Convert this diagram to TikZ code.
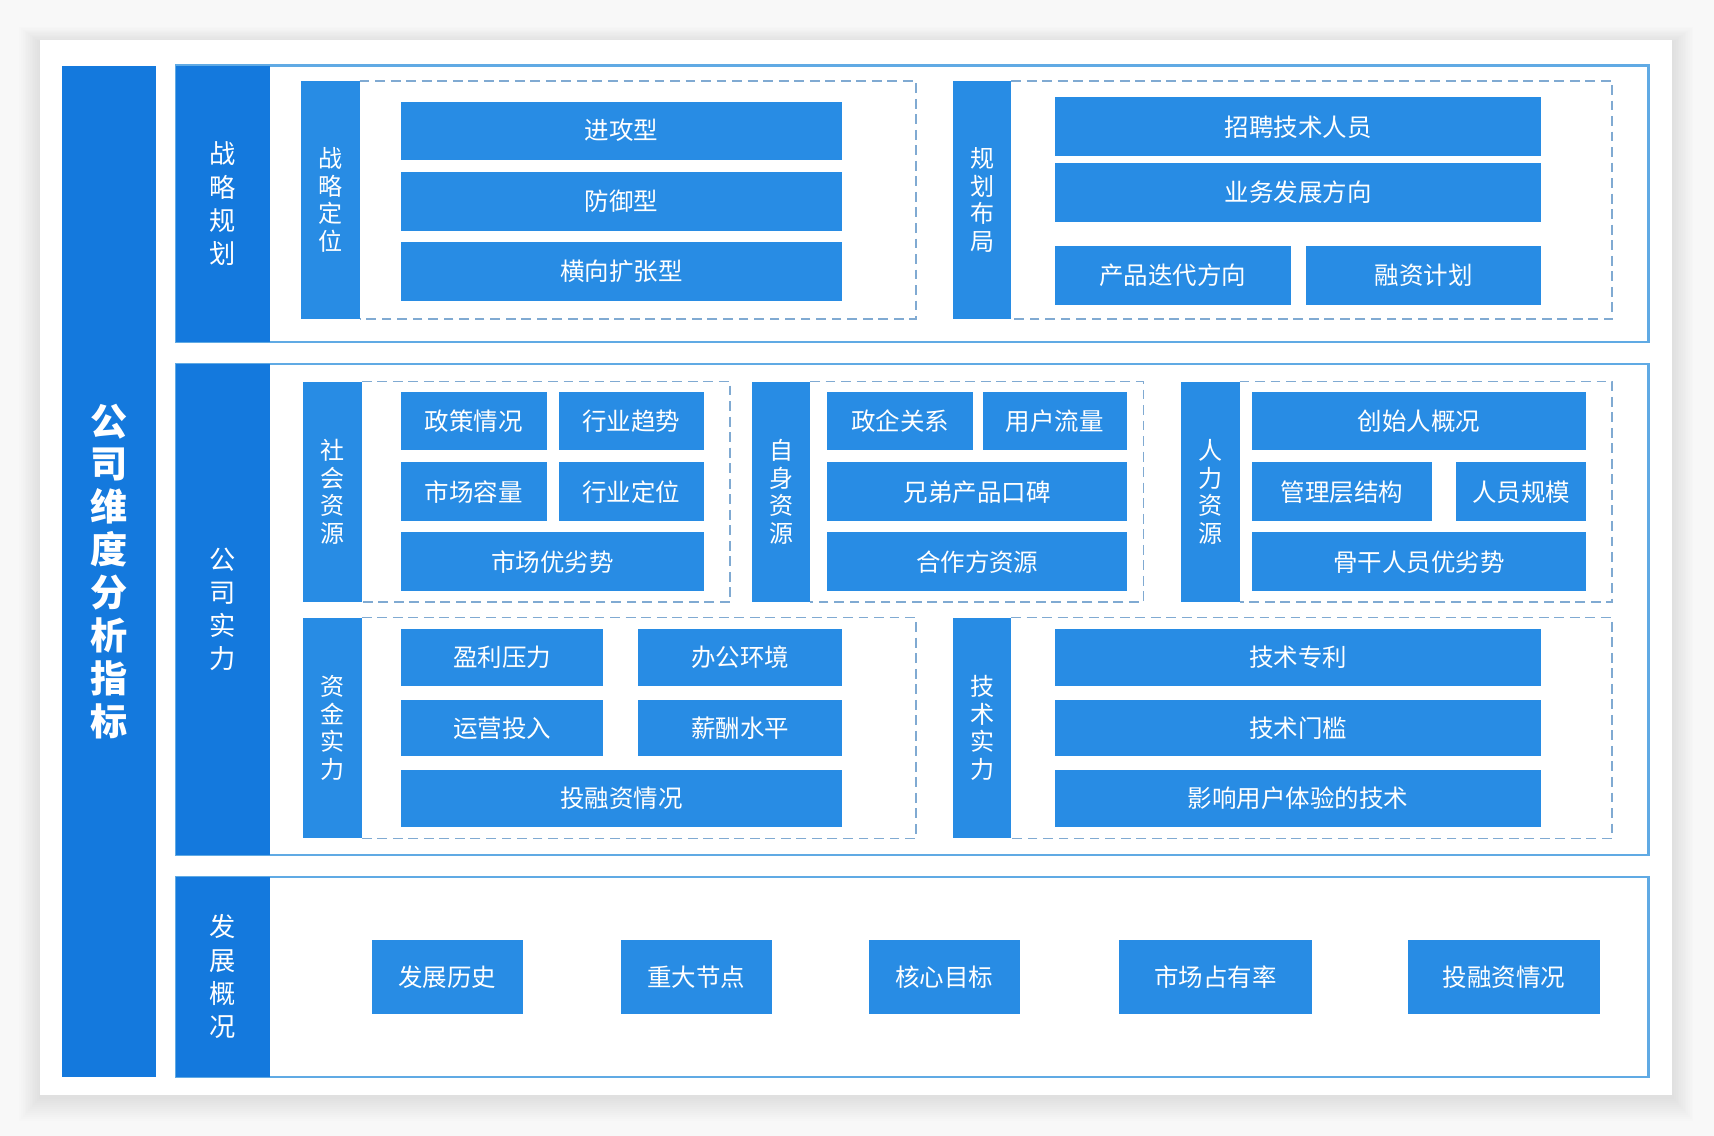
\documentclass[tikz,border=0pt]{standalone}
\usepackage{fontspec}
\setmainfont{Noto Sans CJK SC}
\definecolor{darkblue}{RGB}{20,121,221}
\definecolor{lightblue}{RGB}{40,140,228}
\definecolor{outline}{RGB}{96,170,228}
\definecolor{dashcol}{RGB}{128,170,210}
\definecolor{bgcol}{RGB}{248,248,248}
\tikzset{
  itembox/.style={fill=lightblue, text=white, inner sep=0pt, font=\fontsize{11.2}{13}\selectfont},
  sublabel/.style={fill=lightblue, text=white, inner sep=0pt, align=center, font=\fontsize{11}{12.6}\selectfont},
  seclabel/.style={fill=darkblue, text=white, inner sep=0pt, align=center, font=\fontsize{12}{15.2}\selectfont},
  secframe/.style={draw=outline, line width=1pt},
  dashframe/.style={draw=dashcol, line width=0.8pt, dash pattern=on 4.5pt off 2.6pt},
}
\newcommand\placebox[7]{\node[#1, minimum width={(#5-#3)*0.5pt}, minimum height={(#6-#4)*0.5pt}] (#2) at ({(#3+#5)/2},{(#4+#6)/2}) {#7};}
% dashed group frame: open on the left, from the label's right edge
\newcommand\groupframe[4]{\draw[dashframe] (#1,#2) -- (#3,#2) -- (#3,#4) -- (#1,#4);}
\begin{document}
\begin{tikzpicture}[x=0.5pt,y=-0.5pt]
\useasboundingbox (0,0) rectangle (1568,1039);
\fill[bgcol] (0,0) rectangle (1568,1039);
% card shadow
\foreach \i in {1,...,12}{
  \fill[black, opacity=0.007] ({37-\i*1.6},{39-\i*1.2}) rectangle ({1530+\i*1.6},{1004+\i*1.8});
}
\fill[white] (37,37) rectangle (1530,1002);

% main title bar
\placebox{seclabel, font=\fontsize{17}{19.6}\selectfont\bfseries}{title}{57}{60}{143}{985}{公\\司\\维\\度\\分\\析\\指\\标}

% ===== Section 1 =====
\draw[secframe] (161,60) rectangle (1508,313);
\placebox{seclabel}{s1}{161}{60}{247}{313}{战\\略\\规\\划}
\groupframe{329}{74}{838}{292}
\placebox{sublabel}{s1a}{275}{74}{329}{292}{战\\略\\定\\位}
\placebox{itembox}{a1}{367}{93}{770}{146}{进攻型}
\placebox{itembox}{a2}{367}{157}{770}{211}{防御型}
\placebox{itembox}{a3}{367}{221}{770}{275}{横向扩张型}
\groupframe{925}{74}{1475}{292}
\placebox{sublabel}{s1b}{872}{74}{925}{292}{规\\划\\布\\局}
\placebox{itembox}{b1}{965}{89}{1410}{143}{招聘技术人员}
\placebox{itembox}{b2}{965}{149}{1410}{203}{业务发展方向}
\placebox{itembox}{b3}{965}{225}{1181}{279}{产品迭代方向}
\placebox{itembox}{b4}{1195}{225}{1410}{279}{融资计划}

% ===== Section 2 =====
\draw[secframe] (161,333) rectangle (1508,782);
\placebox{seclabel}{s2}{161}{333}{247}{782}{公\\司\\实\\力}
% social resources
\groupframe{331}{349}{668}{551}
\placebox{sublabel}{s2a}{277}{349}{331}{551}{社\\会\\资\\源}
\placebox{itembox}{c1}{367}{359}{500}{412}{政策情况}
\placebox{itembox}{c2}{511}{359}{644}{412}{行业趋势}
\placebox{itembox}{c3}{367}{423}{500}{477}{市场容量}
\placebox{itembox}{c4}{511}{423}{644}{477}{行业定位}
\placebox{itembox}{c5}{367}{487}{644}{541}{市场优劣势}
% own resources
\groupframe{741}{349}{1046}{551}
\placebox{sublabel}{s2b}{688}{349}{741}{551}{自\\身\\资\\源}
\placebox{itembox}{d1}{757}{359}{890}{412}{政企关系}
\placebox{itembox}{d2}{899}{359}{1031}{412}{用户流量}
\placebox{itembox}{d3}{757}{423}{1031}{477}{兄弟产品口碑}
\placebox{itembox}{d4}{757}{487}{1031}{541}{合作方资源}
% human resources
\groupframe{1134}{349}{1475}{551}
\placebox{sublabel}{s2c}{1080}{349}{1134}{551}{人\\力\\资\\源}
\placebox{itembox}{e1}{1145}{359}{1451}{412}{创始人概况}
\placebox{itembox}{e2}{1145}{423}{1310}{477}{管理层结构}
\placebox{itembox}{e3}{1332}{423}{1451}{477}{人员规模}
\placebox{itembox}{e4}{1145}{487}{1451}{541}{骨干人员优劣势}
% capital strength
\groupframe{331}{565}{838}{767}
\placebox{sublabel}{s2d}{277}{565}{331}{767}{资\\金\\实\\力}
\placebox{itembox}{f1}{367}{575}{552}{628}{盈利压力}
\placebox{itembox}{f2}{584}{575}{770}{628}{办公环境}
\placebox{itembox}{f3}{367}{640}{552}{692}{运营投入}
\placebox{itembox}{f4}{584}{640}{770}{692}{薪酬水平}
\placebox{itembox}{f5}{367}{704}{770}{757}{投融资情况}
% technical strength
\groupframe{925}{565}{1475}{767}
\placebox{sublabel}{s2e}{872}{565}{925}{767}{技\\术\\实\\力}
\placebox{itembox}{g1}{965}{575}{1410}{628}{技术专利}
\placebox{itembox}{g2}{965}{640}{1410}{692}{技术门槛}
\placebox{itembox}{g3}{965}{704}{1410}{757}{影响用户体验的技术}

% ===== Section 3 =====
\draw[secframe] (161,802) rectangle (1508,985);
\placebox{seclabel}{s3}{161}{802}{247}{985}{发\\展\\概\\况}
\placebox{itembox}{h1}{340}{860}{478}{928}{发展历史}
\placebox{itembox}{h2}{568}{860}{706}{928}{重大节点}
\placebox{itembox}{h3}{795}{860}{933}{928}{核心目标}
\placebox{itembox}{h4}{1024}{860}{1200}{928}{市场占有率}
\placebox{itembox}{h5}{1288}{860}{1464}{928}{投融资情况}
\end{tikzpicture}
\end{document}
